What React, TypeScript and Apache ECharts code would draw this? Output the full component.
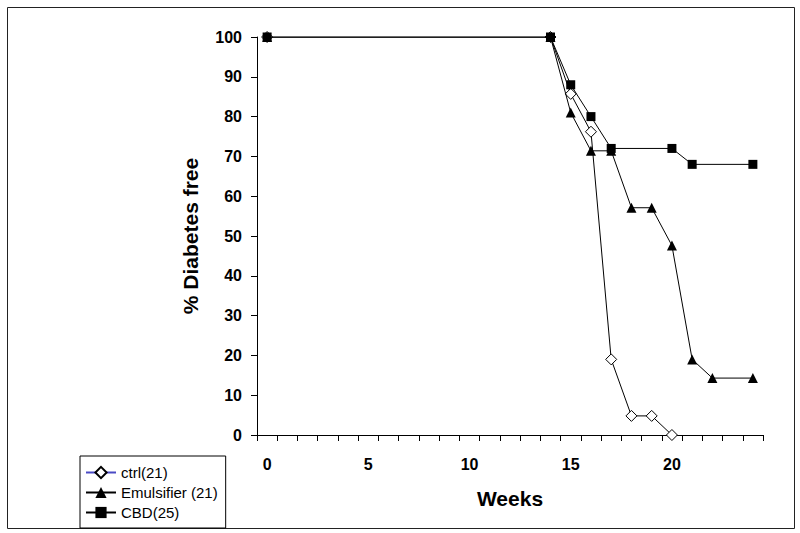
import React, { useEffect, useRef } from "react";
import * as echarts from "echarts";

const weekCategories = [
  "0", "1", "2", "3", "4", "5", "6", "7", "8", "9", "10", "11", "12",
  "13", "14", "15", "16", "17", "18", "19", "20", "21", "22", "23", "24",
];
const yTicks = { min: 0, max: 100, interval: 10 };

const ctrlName = "ctrl(21)";
const ctrlWeeks = [0, 14, 15, 16, 17, 18, 19, 20];
const ctrlValues = [100, 100, 85.7, 76.2, 19.0, 4.8, 4.8, 0];

const emulName = "Emulsifier (21)";
const emulWeeks = [0, 14, 15, 16, 17, 18, 19, 20, 21, 22, 24];
const emulValues = [100, 100, 81.0, 71.4, 71.4, 57.1, 57.1, 47.6, 19.0, 14.3, 14.3];

const cbdName = "CBD(25)";
const cbdWeeks = [0, 14, 15, 16, 17, 20, 21, 24];
const cbdValues = [100, 100, 88, 80, 72, 72, 68, 68];

const FONT = 'Arial, "Liberation Sans", Helvetica, sans-serif';

function pairs(weeks: number[], values: number[]) {
  return weeks.map((w, i) => [String(w), values[i]]);
}

export default function App() {
  const ref = useRef<HTMLDivElement>(null);
  useEffect(() => {
    if (!ref.current) return;
    const chart = echarts.init(ref.current, null, { renderer: "svg" });
    chart.setOption({
      animation: false,
      backgroundColor: "#fff",
      grid: { left: 257, top: 37, right: 37, bottom: 98, containLabel: false },
      graphic: [
        {
          type: "rect",
          z: 0,
          shape: { x: 7.5, y: 7.5, width: 787, height: 521 },
          style: { fill: "none", stroke: "#222", lineWidth: 1 },
          silent: true,
        },
      ],
      legend: {
        orient: "vertical",
        left: 80,
        top: 456,
        height: 80,
        padding: [9, 8, 8, 5],
        itemGap: 5,
        itemWidth: 30,
        itemHeight: 14,
        borderColor: "#000",
        borderWidth: 1,
        backgroundColor: "#fff",
        textStyle: { fontFamily: FONT, fontSize: 15, color: "#000" },
        data: [
          { name: ctrlName, lineStyle: { color: "#4a4ac4" } },
          { name: emulName },
          { name: cbdName },
        ],
      },
      xAxis: {
        type: "category",
        data: weekCategories,
        boundaryGap: true,
        name: "Weeks",
        nameLocation: "middle",
        nameGap: 53,
        nameTextStyle: { fontFamily: FONT, fontSize: 21, fontWeight: "bold", color: "#000" },
        axisLine: { lineStyle: { color: "#000", width: 1 } },
        axisTick: { show: true, interval: 0, length: 6, lineStyle: { color: "#000" } },
        axisLabel: {
          interval: 4,
          margin: 21,
          fontFamily: FONT,
          fontSize: 16,
          fontWeight: "bold",
          color: "#000",
        },
        splitLine: { show: false },
      },
      yAxis: {
        type: "value",
        min: yTicks.min,
        max: yTicks.max,
        interval: yTicks.interval,
        name: "% Diabetes free",
        nameLocation: "middle",
        nameGap: 56,
        nameTextStyle: { fontFamily: FONT, fontSize: 21, fontWeight: "bold", color: "#000" },
        axisLine: { show: true, lineStyle: { color: "#000", width: 1 } },
        axisTick: { show: true, length: 6, lineStyle: { color: "#000" } },
        axisLabel: {
          margin: 15,
          fontFamily: FONT,
          fontSize: 16,
          fontWeight: "bold",
          color: "#000",
        },
        splitLine: { show: false },
      },
      series: [
        {
          name: ctrlName,
          type: "line",
          data: pairs(ctrlWeeks, ctrlValues),
          symbol: "diamond",
          symbolSize: 11,
          showAllSymbol: true,
          lineStyle: { color: "#000", width: 1 },
          itemStyle: { color: "#fff", borderColor: "#000", borderWidth: 1 },
          z: 3,
        },
        {
          name: emulName,
          type: "line",
          data: pairs(emulWeeks, emulValues),
          symbol: "triangle",
          symbolSize: 10,
          showAllSymbol: true,
          lineStyle: { color: "#000", width: 1 },
          itemStyle: { color: "#000", borderColor: "#000", borderWidth: 0 },
          z: 4,
        },
        {
          name: cbdName,
          type: "line",
          data: pairs(cbdWeeks, cbdValues),
          symbol: "rect",
          symbolSize: 9,
          showAllSymbol: true,
          lineStyle: { color: "#000", width: 1 },
          itemStyle: { color: "#000", borderColor: "#000", borderWidth: 0 },
          z: 5,
        },
      ],
    });
    return () => chart.dispose();
  }, []);
  return (
    <div
      ref={ref}
      style={{ position: "fixed", left: 0, top: 0, width: 800, height: 533, background: "#fff" }}
    />
  );
}
